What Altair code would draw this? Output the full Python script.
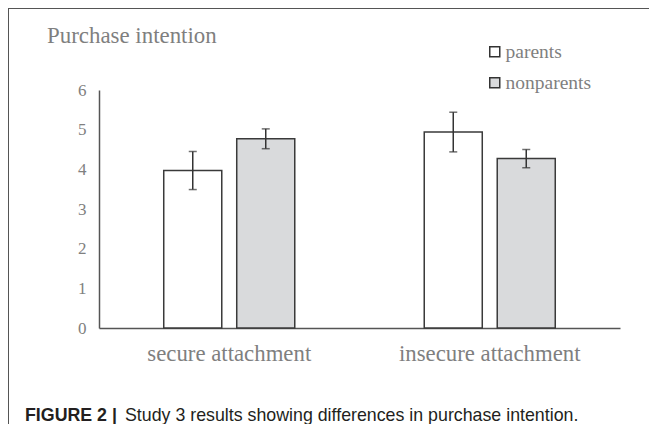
import altair as alt
import pandas as pd

categories = ["secure attachment", "insecure attachment"]
groups = ["parents", "nonparents"]
parents_mean = [3.97, 4.94]
nonparents_mean = [4.77, 4.27]
parents_err = [0.48, 0.50]
nonparents_err = [0.25, 0.23]
y_ticks = [0, 1, 2, 3, 4, 5, 6]
fill_colors = ["#ffffff", "#d9dadc"]

title_text = "Purchase intention"
caption_bold = "FIGURE 2 |"
caption_rest = "Study 3 results showing differences in purchase intention."

rows = []
for i, c in enumerate(categories):
    rows.append({"cat": c, "group": "parents", "mean": parents_mean[i], "err": parents_err[i]})
    rows.append({"cat": c, "group": "nonparents", "mean": nonparents_mean[i], "err": nonparents_err[i]})
df = pd.DataFrame(rows)
df["lo"] = df["mean"] - df["err"]
df["hi"] = df["mean"] + df["err"]

W, H = 521, 238
PL, PT = 91, 82

x_axis = alt.Axis(labelAngle=0, ticks=False, labelPadding=14, labelLimit=400,
                  labelFont="Liberation Serif", labelFontSize=22.8,
                  labelColor="#7f7f7f", domainColor="#555555",
                  domainWidth=1.5, labelBaseline="top")
y_axis = alt.Axis(values=y_ticks, ticks=False, grid=False, labelPadding=13,
                  labelOverlap=False, labelFlush=False,
                  labelFont="Liberation Serif", labelFontSize=17,
                  labelColor="#808080", domainColor="#555555", domainWidth=1.5)
x_scale = alt.Scale(paddingInner=0, paddingOuter=0)
xo_scale = alt.Scale(domain=groups, paddingInner=0.205, paddingOuter=0.887)
y_scale = alt.Scale(domain=[0, 6], nice=False)


def xenc():
    return alt.X("cat:N", sort=categories, title=None, scale=x_scale, axis=x_axis)


def xoenc():
    return alt.XOffset("group:N", sort=groups, scale=xo_scale)


base = alt.Chart(df)

bars = base.mark_bar(stroke="#3a3a3a", strokeWidth=1.5).encode(
    x=xenc(),
    xOffset=xoenc(),
    y=alt.Y("mean:Q", scale=y_scale, title=None, axis=y_axis),
    fill=alt.Fill("group:N", sort=groups, title=None,
                  scale=alt.Scale(domain=groups, range=fill_colors),
                  legend=alt.Legend(orient="none", legendX=386, legendY=-48,
                                    symbolType="square", symbolSize=100,
                                    symbolStrokeColor="#333333", symbolStrokeWidth=1.5,
                                    labelFont="Liberation Serif", labelFontSize=19.5,
                                    labelColor="#7f7f7f", labelOffset=1,
                                    rowPadding=10, padding=0)),
)

err_rule = base.mark_rule(color="#333333", strokeWidth=1.5).encode(
    x=xenc(),
    xOffset=xoenc(),
    y=alt.Y("lo:Q", scale=y_scale, title=None, axis=y_axis),
    y2="hi:Q",
)
cap_hi = base.mark_tick(color="#333333", thickness=1.5, size=8).encode(
    x=xenc(),
    xOffset=xoenc(),
    y=alt.Y("hi:Q", scale=y_scale, title=None, axis=y_axis),
)
cap_lo = base.mark_tick(color="#333333", thickness=1.5, size=8).encode(
    x=xenc(),
    xOffset=xoenc(),
    y=alt.Y("lo:Q", scale=y_scale, title=None, axis=y_axis),
)

title_df = pd.DataFrame({"t": [title_text]})
title_mark = alt.Chart(title_df).mark_text(
    font="Liberation Serif", fontSize=22.9, color="#7f7f7f", align="left", baseline="alphabetic"
).encode(x=alt.value(-52), y=alt.value(-47), text="t:N")

cap1 = alt.Chart(pd.DataFrame({"t": [caption_bold]})).mark_text(
    font="Liberation Sans", fontSize=17.8, fontWeight="bold", color="#231f20",
    align="left", baseline="alphabetic"
).encode(x=alt.value(-74), y=alt.value(331), text="t:N")
cap2 = alt.Chart(pd.DataFrame({"t": [caption_rest]})).mark_text(
    font="Liberation Sans", fontSize=17.8, color="#231f20",
    align="left", baseline="alphabetic"
).encode(x=alt.value(26), y=alt.value(331), text="t:N")

frame_top = alt.Chart(title_df).mark_rule(color="#555555", strokeWidth=1).encode(
    x=alt.value(-PL), x2=alt.value(700), y=alt.value(-PT + 0.5))
frame_left = alt.Chart(title_df).mark_rule(color="#555555", strokeWidth=1).encode(
    x=alt.value(-PL + 0.5), y=alt.value(-PT), y2=alt.value(500))

chart = alt.layer(
    bars, err_rule, cap_hi, cap_lo, title_mark, cap1, cap2, frame_top, frame_left
).properties(
    width=W, height=H,
    autosize=alt.AutoSizeParams(type="none"),
    padding={"left": PL, "top": PT, "right": 29, "bottom": 96},
).configure_view(stroke=None)

chart.save("out.html", embed_options={"renderer": "svg", "actions": False})
